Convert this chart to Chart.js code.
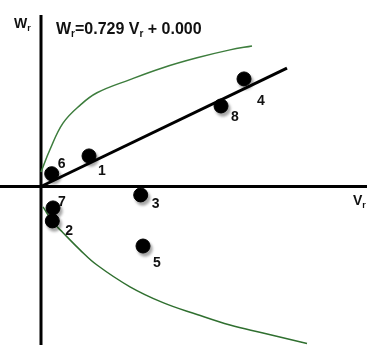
<!DOCTYPE html>
<html>
<head>
<meta charset="utf-8">
<script src="https://cdn.jsdelivr.net/npm/chart.js@4"></script>
<style>
  body { margin: 0; background: #fff; }
  #wrap { width: 368px; height: 345px; }
</style>
</head>
<body>
<div id="wrap"><canvas id="myChart" width="368" height="345"></canvas></div>
<script>
// data (V_r, W_r)
var pointLabels = ["6", "1", "3", "7", "2", "5", "8", "4"];
var pointV = [1.07, 4.8, 9.97, 1.2, 1.13, 10.2, 18.0, 20.3];
var pointW = [1.94, 4.63, -1.28, -3.25, -5.22, -9.02, 12.2, 16.3];

// regression line W = 0.729 V + 0.000
var fitV = [0, 24.6];
var fitW = [0, 17.93];

// upper and lower green curves
var upperV = [0.0, 0.9, 2.2, 3.9, 5.6, 8.9, 12.2, 15.6, 18.9, 21.1];
var upperW = [2.2, 5.6, 9.6, 12.3, 14.2, 16.2, 18.0, 19.5, 20.7, 21.3];
var lowerV = [0.2, 1.2, 2.2, 3.9, 5.6, 8.9, 12.2, 15.6, 18.9, 22.2, 26.6];
var lowerW = [-3.1, -5.4, -7.0, -9.6, -11.9, -15.2, -17.6, -19.4, -21.0, -22.2, -23.8];

// label offsets from each dot (px)
var labelOffsets = [[6, -6], [9, 19], [11, 13], [5, -2], [13, 14], [10, 21], [10, 15], [13, 26]];

function toXY(xs, ys) {
    var out = [];
    for (var i = 0; i < xs.length; ++i) out.push({ x: xs[i], y: ys[i] });
    return out;
}

// text with a subscript "r"
function drawSub(ctx, parts, x, y, size) {
    for (var i = 0; i < parts.length; ++i) {
	var p = parts[i];
	if (p.sub) {
	    ctx.font = "bold " + Math.round(size * 0.62) + "px 'Liberation Sans', Arial, sans-serif";
	    ctx.fillText(p.t, x, y + size * 0.2);
	} else {
	    ctx.font = "bold " + size + "px 'Liberation Sans', Arial, sans-serif";
	    ctx.fillText(p.t, x, y);
	}
	x += ctx.measureText(p.t).width;
    }
}

var axesPlugin = {
    id: "axes",
    beforeDatasetsDraw: function(chart) {
	var ctx = chart.ctx, xs = chart.scales.x, ys = chart.scales.y;
	var x0 = xs.getPixelForValue(0), y0 = ys.getPixelForValue(0);
	ctx.save();
	ctx.strokeStyle = "#000";
	ctx.lineWidth = 3;
	ctx.beginPath();
	ctx.moveTo(x0, ys.getPixelForValue(26));
	ctx.lineTo(x0, chart.height);
	ctx.moveTo(0, y0);
	ctx.lineTo(xs.getPixelForValue(32.6), y0);
	ctx.stroke();
	ctx.restore();
    },
    beforeDatasetDraw: function(chart, args) {
	if (args.index === 0) {
	    var ctx = chart.ctx;
	    ctx.save();
	    ctx.shadowColor = "rgba(0,0,0,0.35)";
	    ctx.shadowOffsetX = 2;
	    ctx.shadowOffsetY = 3;
	    ctx.shadowBlur = 3;
	}
    },
    afterDatasetDraw: function(chart, args) {
	if (args.index === 0) chart.ctx.restore();
    },
    afterDraw: function(chart) {
	var ctx = chart.ctx, xs = chart.scales.x, ys = chart.scales.y;
	ctx.save();
	ctx.fillStyle = "#111";
	ctx.textBaseline = "alphabetic";
	ctx.textAlign = "left";
	// point numbers
	ctx.font = "bold 14px 'Liberation Sans', Arial, sans-serif";
	for (var i = 0; i < pointLabels.length; ++i) {
	    var px = xs.getPixelForValue(pointV[i]) + labelOffsets[i][0];
	    var py = ys.getPixelForValue(pointW[i]) + labelOffsets[i][1];
	    ctx.fillText(pointLabels[i], px, py);
	}
	// axis names and equation
	drawSub(ctx, [{ t: "W" }, { t: "r", sub: true }], 14, 28, 14);
	drawSub(ctx, [{ t: "V" }, { t: "r", sub: true }], 353, 205, 14);
	drawSub(ctx, [{ t: "W" }, { t: "r", sub: true }, { t: "=0.729 V" }, { t: "r", sub: true }, { t: " + 0.000" }], 56, 34, 16);
	ctx.restore();
    }
};

function main() {
    var ctx = document.getElementById("myChart").getContext("2d");
    var myChart = new Chart(ctx, {
	type: "scatter",
	data: {
	    datasets: [
		{ label: "points", data: toXY(pointV, pointW), backgroundColor: "#000", borderColor: "#000",
		  pointRadius: 7, pointHoverRadius: 7 },
		{ label: "fit", type: "line", data: toXY(fitV, fitW), borderColor: "#000", borderWidth: 3,
		  pointRadius: 0, fill: false },
		{ label: "upper", type: "line", data: toXY(upperV, upperW), borderColor: "#3d7d3d", borderWidth: 1.5,
		  pointRadius: 0, fill: false, tension: 0.4 },
		{ label: "lower", type: "line", data: toXY(lowerV, lowerW), borderColor: "#2f6f2f", borderWidth: 1.5,
		  pointRadius: 0, fill: false, tension: 0.4 }
	    ]
	},
	options: {
	    responsive: false,
	    animation: false,
	    layout: { padding: 0, autoPadding: false },
	    plugins: { legend: { display: false }, tooltip: { enabled: false } },
	    scales: {
		x: { type: "linear", min: -4.1, max: 32.7, display: false },
		y: { type: "linear", min: -24.02, max: 28.26, display: false }
	    }
	},
	plugins: [axesPlugin]
    });
}

main();
</script>
</body>
</html>
